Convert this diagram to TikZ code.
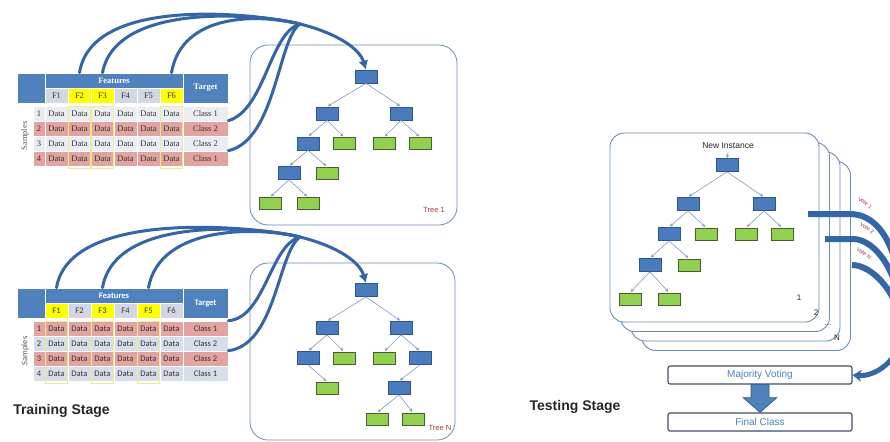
\documentclass[tikz,border=0pt]{standalone}
\usepackage{fontspec}
\setmainfont{Liberation Sans}
\newfontfamily\tabserif{Liberation Serif}
\newfontfamily\tabcal{Carlito}
\usetikzlibrary{arrows.meta,calc}

\definecolor{hblue}{HTML}{4F81BD}
\definecolor{hgray}{HTML}{D3D7E3}
\definecolor{syel}{HTML}{FFFF00}
\definecolor{rred}{HTML}{E3A3A1}
\definecolor{rlight}{HTML}{ECEDF3}
\definecolor{rlightb}{HTML}{D8DDEA}
\definecolor{nblue}{HTML}{4A7BBE}
\definecolor{nbluedk}{HTML}{2F5589}
\definecolor{ngreen}{HTML}{92D050}
\definecolor{ngreendk}{HTML}{4B5E33}
\definecolor{edgec}{HTML}{7F98BF}
\definecolor{boxc}{HTML}{6A8DB5}
\definecolor{arrowc}{HTML}{3465A6}
\definecolor{treelab}{HTML}{A23B33}
\definecolor{mvtext}{HTML}{4F81BD}
\definecolor{mvbord}{HTML}{3E4E66}
\definecolor{yline}{HTML}{EEEE88}

\tikzset{
 cell/.style={draw=white, line width=0.6pt, inner sep=0pt, text=black!80},
 hcell/.style={cell, fill=hblue, text=white},
 tnode/.style={draw=nbluedk, fill=nblue, line width=0.7pt, minimum width=22pt, minimum height=13pt, inner sep=0pt},
 leaf/.style={draw=ngreendk, fill=ngreen, line width=0.7pt, minimum width=22pt, minimum height=12pt, inner sep=0pt},
 tedge/.style={draw=edgec, line width=0.6pt, -{Stealth[length=3.5pt,width=3.2pt]}, shorten >=1pt},
 treebox/.style={draw=boxc, line width=0.8pt, rounded corners=18pt, inner sep=0pt},
 treelabel/.style={text=treelab, font=\fontsize{7.5}{9}\selectfont},
 bigarc/.style={draw=arrowc, line width=3pt, line cap=round},
 bigtip/.style={bigarc, -{Latex[length=9pt,width=10pt]}},
 card/.style={draw=boxc, fill=white, line width=0.9pt, rounded corners=14pt, inner sep=0pt, minimum width=209pt, minimum height=189pt},
 cardnum/.style={font=\fontsize{8}{9}\selectfont, text=black!85},
 votebar/.style={draw=arrowc, line width=6pt},
 votelab/.style={text=treelab, font=\fontsize{5.5}{6}\selectfont, rotate=-35, inner sep=0.5pt},
 resbox/.style={draw=mvbord, line width=1.1pt, rounded corners=2pt, fill=white, minimum width=184pt, minimum height=18pt, text=mvtext, font=\fontsize{10}{11}\selectfont},
 stagelab/.style={font=\fontsize{14}{16}\selectfont\bfseries, text=black!85},
}

\newcommand{\DataTable}[6]{%
\begin{scope}[font=#3]
\node[hcell, minimum width=28pt, minimum height=30pt] (#1-corner) at (31,{#2+15}) {};
\node[hcell, minimum width=138pt, minimum height=15pt] (#1-feat) at (114,{#2+7.5}) {\bfseries Features};
\node[hcell, minimum width=45pt, minimum height=30pt] (#1-target) at (205.5,{#2+15}) {\bfseries Target};
\foreach \ci/\cc in {#4}{
 \node[cell, fill=\cc, minimum width=23pt, minimum height=15pt] (#1-f\ci) at ({45+23*\ci-11.5},{#2+22.5}) {F\ci};
}
\foreach \ri/\rc/\cls in {#5}{
 \node[cell, fill=\rc, minimum width=12pt, minimum height=15pt] (#1-n\ri) at (39,{#2+25.5+15*\ri}) {\ri};
 \foreach \ci in {1,...,6}{
  \node[cell, fill=\rc, minimum width=23pt, minimum height=15pt] (#1-d\ri-\ci) at ({45+23*\ci-11.5},{#2+25.5+15*\ri}) {Data};
 }
 \node[cell, fill=\rc, minimum width=45pt, minimum height=15pt] (#1-t\ri) at (205.5,{#2+25.5+15*\ri}) {\cls};
}
\node[rotate=90, text=black!65] (#1-samp) at (25,{#2+63}) {Samples};
\foreach \ci in {#6}{
 \draw[yline, line width=0.8pt] ({45+23*(\ci-1)+0.5},{#2+33}) rectangle ({45+23*\ci-0.5},{#2+95});
}
\end{scope}}

\begin{document}
\begin{tikzpicture}[x=1pt,y=-1pt]
\useasboundingbox (0,0) rectangle (890,441);
\fill[white] (0,0) rectangle (890,441);

% ---------------- tables
\DataTable{T1}{73}{\tabserif\fontsize{8.5}{9}\selectfont}{1/hgray,2/syel,3/syel,4/hgray,5/hgray,6/syel}{1/rlight/Class 1,2/rred/Class 2,3/rlight/Class 2,4/rred/Class 1}{2,3,6}
\DataTable{T2}{288}{\tabcal\fontsize{8.5}{9}\selectfont}{1/syel,2/hgray,3/syel,4/hgray,5/syel,6/hgray}{1/rred/Class 1,2/rlightb/Class 2,3/rred/Class 2,4/rlightb/Class 1}{1,3,5}

% ---------------- tree boxes
\node[treebox, minimum width=207pt, minimum height=180pt] (box1) at (353.5,135) {};
\node[treebox, minimum width=205pt, minimum height=177pt] (boxN) at (352.5,351.5) {};
\node[treelabel] (lab1) at (434,210) {Tree 1};
\node[treelabel] (labN) at (440,428) {Tree N};

% ---------------- tree 1
\node[tnode] (A0) at (366,76.5) {};
\node[tnode] (A1) at (327,113.5) {};
\node[tnode] (A2) at (401,113.5) {};
\node[tnode] (A3) at (308,143.5) {};
\node[leaf]  (A4) at (344,143.5) {};
\node[leaf]  (A5) at (384,143.5) {};
\node[leaf]  (A6) at (420,143.5) {};
\node[tnode] (A7) at (289,173) {};
\node[leaf]  (A8) at (327,173) {};
\node[leaf]  (A9) at (270,203.5) {};
\node[leaf]  (A10) at (308,203.5) {};
\foreach \p/\q in {A0/A1,A0/A2,A1/A3,A1/A4,A2/A5,A2/A6,A3/A7,A3/A8,A7/A9,A7/A10}
  \draw[tedge] (\p.south) -- (\q.north);

% ---------------- tree N
\node[tnode] (B0) at (366,290) {};
\node[tnode] (B1) at (327,328) {};
\node[tnode] (B2) at (401,328) {};
\node[tnode] (B3) at (308,358) {};
\node[leaf]  (B4) at (344,358) {};
\node[leaf]  (B5) at (384,358) {};
\node[tnode] (B6) at (420,358) {};
\node[leaf]  (B7) at (327,388) {};
\node[tnode] (B8) at (399,388) {};
\node[leaf]  (B9) at (377,419) {};
\node[leaf]  (B10) at (413,419) {};
\foreach \p/\q in {B0/B1,B0/B2,B1/B3,B1/B4,B2/B5,B2/B6,B3/B7,B6/B8,B8/B9,B8/B10}
  \draw[tedge] (\p.south) -- (\q.north);

% ---------------- big arcs, top
\coordinate (J1) at (300,24);
\draw[bigarc] (T1-f2 |- T1-feat.north) .. controls (92,-6) and (260,14) .. (J1);
\draw[bigarc] (T1-f3 |- T1-feat.north) .. controls (116,1) and (260,14) .. (J1);
\draw[bigarc] (T1-f6 |- T1-feat.north) .. controls (182,12) and (260,14) .. (J1);
\draw[bigarc] (T1-t2.north east) .. controls (265,110) and (270,32) .. (J1);
\draw[bigarc] (T1-t4.north east) .. controls (276,140) and (278,38) .. (J1);
\draw[bigtip] (J1) .. controls (340,34) and (360,50) .. (A0.north);

% ---------------- big arcs, bottom
\coordinate (J2) at (300,237);
\draw[bigarc] (T2-f1 |- T2-feat.north) .. controls (70,207) and (260,227) .. (J2);
\draw[bigarc] (T2-f3 |- T2-feat.north) .. controls (115,214) and (260,227) .. (J2);
\draw[bigarc] (T2-f5 |- T2-feat.north) .. controls (160,224) and (260,227) .. (J2);
\draw[bigarc] (T2-t1.north east) .. controls (265,318) and (270,245) .. (J2);
\draw[bigarc] (T2-t3.north east) .. controls (276,345) and (278,252) .. (J2);
\draw[bigtip] (J2) .. controls (340,247) and (360,263) .. (B0.north);

% ---------------- testing stage cards
\node[card] (card4) at (746,256) {};
\node[card] (card3) at (735.5,246.5) {};
\node[card] (card2) at (725,237) {};
\node[card] (card1) at (714.5,227.5) {};
\node[cardnum] (n1) at (799,298) {1};
\node[cardnum] (n2) at (816,313) {2};
\node[cardnum] (n3) at (828,325) {...};
\node[cardnum] (n4) at (837,338) {N};

\node[font=\fontsize{8.5}{10}\selectfont, text=black!85] (newi) at (728,146) {New Instance};
\node[tnode] (C0) at (727,165) {};
\draw[tedge, shorten >=0pt] (newi.south) -- (C0.north);
\node[tnode] (C1) at (688,204) {};
\node[tnode] (C2) at (764,204) {};
\node[tnode] (C3) at (669,234) {};
\node[leaf]  (C4) at (706,234) {};
\node[leaf]  (C5) at (746,234) {};
\node[leaf]  (C6) at (782,234) {};
\node[tnode] (C7) at (650,265) {};
\node[leaf]  (C8) at (689,265) {};
\node[leaf]  (C9) at (630,299) {};
\node[leaf]  (C10) at (669,299) {};
\foreach \p/\q in {C0/C1,C0/C2,C1/C3,C1/C4,C2/C5,C2/C6,C3/C7,C3/C8,C7/C9,C7/C10}
  \draw[tedge] (\p.south) -- (\q.north);

% ---------------- result boxes
\node[resbox] (mv) at (760,375) {Majority Voting};
\node[resbox] (fc) at (760,422) {Final Class};
\filldraw[fill=hblue, draw=nbluedk, line width=0.6pt]
  ($(mv.south)+(-9,0)$) -- ($(mv.south)+(9,0)$) -- ($(mv.south)+(9,13)$) -- ($(mv.south)+(17,13)$)
  -- (fc.north) -- ($(mv.south)+(-17,13)$) -- ($(mv.south)+(-9,13)$) -- cycle;

% ---------------- votes (curves leave the frame on the right)
\coordinate (v1) at (808,214);
\coordinate (v2) at (825,239);
\coordinate (vN) at (852,265);
\coordinate (vm) at (903,330);
\begin{scope}
\clip (0,0) rectangle (890,441);
\draw[votebar] (v1) -- (850,214) .. controls (878,214) and (903,245) .. (vm);
\draw[votebar] (v2) -- (853,239) .. controls (874,239) and (901,270) .. (vm);
\draw[votebar] (vN) .. controls (872,265) and (898,292) .. (vm);
\draw[votebar, line width=5pt, -{Stealth[length=9pt,width=12pt]}] (vm) .. controls (900,362) and (874,377) .. (mv.east);
\end{scope}
\node[votelab] (vl1) at (865,203) {Vote 1};
\node[votelab] (vl2) at (867,228) {Vote 2};
\node[votelab] (vlN) at (864,253.5) {Vote N};

% ---------------- stage labels
\node[stagelab] (train) at (61.5,411) {Training Stage};
\node[stagelab] (test) at (575,407) {Testing Stage};
\end{tikzpicture}
\end{document}
